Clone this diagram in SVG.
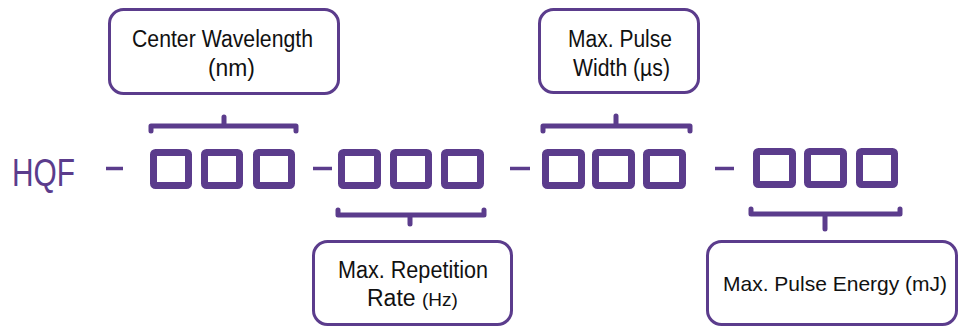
<svg xmlns="http://www.w3.org/2000/svg" width="960" height="327" viewBox="0 0 960 327">
<style>
.cell{fill:none;stroke:#5B3C8C;stroke-width:7;stroke-linejoin:round}
.call{fill:#fff;stroke:#5B3C8C;stroke-width:3}
.br{fill:none;stroke:#5B3C8C;stroke-width:5;stroke-linecap:round;stroke-linejoin:round}
.dash{stroke:#5B3C8C;stroke-width:3.5}
.lbl{font-family:"Liberation Sans",Arial,sans-serif;font-size:23px;fill:#111}
</style>
<rect width="960" height="327" fill="#fff"/>
<g id="prefix">
<text x="12" y="186" font-family="Liberation Sans, Arial, sans-serif" font-size="39" fill="#5B3C8C" textLength="63" lengthAdjust="spacingAndGlyphs">HQF</text>
</g>
<g id="dashes">
<line class="dash" x1="106" y1="168.5" x2="123" y2="168.5"/>
<line class="dash" x1="313" y1="168.5" x2="332" y2="168.5"/>
<line class="dash" x1="510" y1="168.5" x2="530" y2="168.5"/>
<line class="dash" x1="715" y1="168.5" x2="734" y2="168.5"/>
</g>
<g id="group1">
<rect class="cell" x="153.5" y="152.5" width="35" height="33" rx="2"/>
<rect class="cell" x="204.5" y="152.5" width="35" height="33" rx="2"/>
<rect class="cell" x="256.5" y="152.5" width="35" height="33" rx="2"/>
</g>
<g id="group2">
<rect class="cell" x="341.5" y="152.5" width="36" height="33" rx="2"/>
<rect class="cell" x="393.5" y="152.5" width="35" height="33" rx="2"/>
<rect class="cell" x="444.5" y="152.5" width="36" height="33" rx="2"/>
</g>
<g id="group3">
<rect class="cell" x="545.5" y="152.5" width="36" height="33" rx="2"/>
<rect class="cell" x="595.5" y="152.5" width="36" height="33" rx="2"/>
<rect class="cell" x="646.5" y="152.5" width="36" height="33" rx="2"/>
</g>
<g id="group4">
<rect class="cell" x="756.5" y="151.5" width="36" height="33" rx="2"/>
<rect class="cell" x="807.5" y="151.5" width="36" height="33" rx="2"/>
<rect class="cell" x="859.5" y="151.5" width="35" height="33" rx="2"/>
</g>
<g id="connectors">
<path class="br" d="M151,131 V126 H296 V131 M224,126 V117"/>
<path class="br" d="M543,131 V126 H690 V131 M616,126 V116"/>
<path class="br" d="M338,210 V215 H484 V210 M410,215 V224"/>
<path class="br" d="M751,209 V214 H900 V209 M825,214 V229"/>
</g>
<g id="center-wavelength">
<rect class="call" x="109.5" y="9.5" width="229" height="84" rx="14"/>
<text class="lbl" x="132" y="47" textLength="181" lengthAdjust="spacingAndGlyphs">Center Wavelength</text>
<text class="lbl" x="208" y="76" textLength="47" lengthAdjust="spacingAndGlyphs">(nm)</text>
</g>
<g id="max-pulse-width">
<rect class="call" x="539.5" y="9.5" width="159" height="83" rx="14"/>
<text class="lbl" x="568" y="47" textLength="104" lengthAdjust="spacingAndGlyphs">Max. Pulse</text>
<text class="lbl" x="573" y="76" textLength="97" lengthAdjust="spacingAndGlyphs">Width (µs)</text>
</g>
<g id="max-repetition-rate">
<rect class="call" x="313.5" y="241.5" width="198" height="83" rx="14"/>
<text class="lbl" x="338" y="278" textLength="150" lengthAdjust="spacingAndGlyphs">Max. Repetition</text>
<text class="lbl" x="367" y="306">Rate <tspan font-size="19">(Hz)</tspan></text>
</g>
<g id="max-pulse-energy">
<rect class="call" x="707.5" y="241.5" width="249" height="83" rx="14"/>
<text class="lbl" x="723" y="291" font-size="21" style="font-size:21px">Max. Pulse Energy (mJ)</text>
</g>
</svg>
